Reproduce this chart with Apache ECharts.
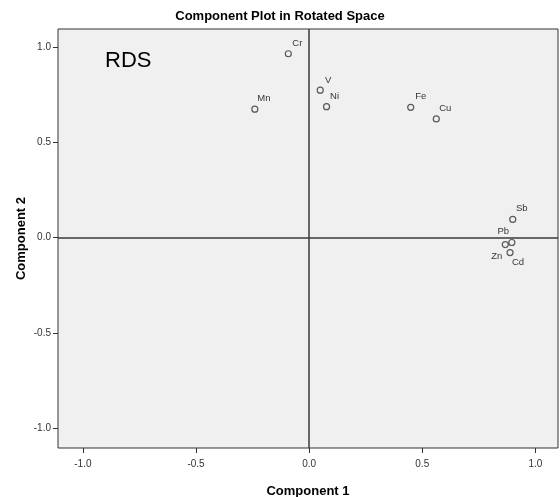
<!DOCTYPE html>
<html>
<head>
<meta charset="utf-8">
<script src="https://cdn.jsdelivr.net/npm/echarts@6/dist/echarts.min.js"></script>
<style>
  html, body { margin: 0; padding: 0; background: #ffffff; }
  #chart { width: 560px; height: 497px; }
</style>
</head>
<body>
<div id="chart"></div>
<script>
// Rotated component loadings per element
const elements   = ['Cr', 'Mn', 'V', 'Ni', 'Fe', 'Cu', 'Sb', 'Pb', 'Zn', 'Cd'];
const component1 = [-0.092, -0.240, 0.049, 0.077, 0.449, 0.562, 0.900, 0.867, 0.896, 0.888];
const component2 = [0.965, 0.674, 0.774, 0.687, 0.684, 0.623, 0.095, -0.037, -0.026, -0.079];
const tickValues = [-1.0, -0.5, 0.0, 0.5, 1.0];

// label placement around each marker (pixels)
const labelNudge = {
  Cr: [9, -10], Mn: [9, -11], V: [8, -10], Ni: [8, -10], Fe: [10, -11],
  Cu: [9, -11], Sb: [9, -11], Pb: [-2, -13], Zn: [-15, 14], Cd: [8, 10]
};

const points = elements.map((name, i) => ({
  name: name,
  value: [component1[i], component2[i]],
  label: { offset: labelNudge[name] || [8, -10] }
}));

const FONT = 'Liberation Sans, Arial, sans-serif';
const chart = echarts.init(document.getElementById('chart'), null, { renderer: 'canvas' });

const axisCommon = {
  type: 'value',
  splitLine: { show: false },
  axisLine: { show: false, onZero: false },
  axisTick: {
    show: true, length: 5, inside: false,
    customValues: tickValues,
    lineStyle: { color: '#333333', width: 1 }
  },
  axisLabel: {
    customValues: tickValues,
    formatter: v => v.toFixed(1),
    color: '#333333', fontSize: 10, fontFamily: FONT
  },
  nameTextStyle: { fontSize: 13, fontWeight: 'bold', color: '#000000', fontFamily: FONT }
};

chart.setOption({
  animation: false,
  backgroundColor: '#ffffff',
  title: {
    text: 'Component Plot in Rotated Space',
    left: 'center',
    top: 5,
    textStyle: { fontSize: 13, fontWeight: 'bold', color: '#000000', fontFamily: FONT }
  },
  grid: {
    left: 58, right: 2, top: 29, bottom: 49,
    outerBoundsMode: 'none',
    containLabel: false,
    show: true,
    backgroundColor: '#f0f0f0',
    borderColor: '#333333',
    borderWidth: 1
  },
  xAxis: Object.assign({}, axisCommon, {
    min: -1.11, max: 1.10,
    name: 'Component 1',
    nameLocation: 'middle',
    nameGap: 37,
    axisLabel: Object.assign({}, axisCommon.axisLabel, { margin: 11 })
  }),
  yAxis: Object.assign({}, axisCommon, {
    min: -1.105, max: 1.095,
    name: 'Component 2',
    nameLocation: 'middle',
    nameGap: 30,
    nameMoveOverlap: false,
    nameRotate: 90,
    axisLabel: Object.assign({}, axisCommon.axisLabel, { margin: 7 })
  }),
  graphic: [{
    type: 'text',
    left: 105,
    top: 50,
    style: { text: 'RDS', fontSize: 22, fill: '#000000', fontFamily: FONT }
  }],
  series: [{
    type: 'scatter',
    data: points,
    symbol: 'circle',
    symbolSize: 6,
    itemStyle: { color: 'rgba(0,0,0,0)', borderColor: '#333333', borderWidth: 1.2 },
    label: {
      show: true,
      position: 'inside',
      formatter: p => p.name,
      fontSize: 9.5,
      color: '#000000',
      fontFamily: FONT
    },
    markLine: {
      silent: true,
      symbol: 'none',
      label: { show: false },
      lineStyle: { color: '#3a3a3a', width: 1.5, type: 'solid' },
      data: [{ xAxis: 0 }, { yAxis: 0 }]
    }
  }]
});
</script>
</body>
</html>
